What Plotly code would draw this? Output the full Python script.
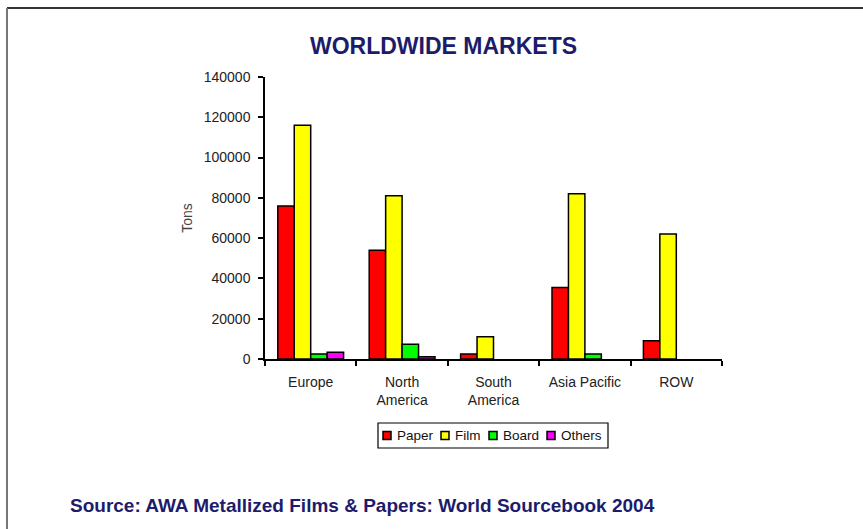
import plotly.graph_objects as go

regions = ["Europe", "North<br>America", "South<br>America", "Asia Pacific", "ROW"]
series_names = ["Paper", "Film", "Board", "Others"]
paper = [76000, 54000, 2500, 35500, 9000]
film = [116000, 81000, 11000, 82000, 62000]
board = [2500, 7300, None, 2500, None]
others = [3300, 1100, None, None, None]
colors = ["#ff0000", "#ffff00", "#00ff00", "#ff00ff"]
y_ticks = [0, 20000, 40000, 60000, 80000, 100000, 120000, 140000]

W, H = 863, 529
L, R, T, B = 265, 722, 77, 359

def px(x):
    return (x - L) / (R - L)

def py(y):
    return (B - y) / (B - T)

fig = go.Figure()
for name, vals, col in zip(series_names, [paper, film, board, others], colors):
    fig.add_trace(go.Bar(
        x=regions, y=vals, name=name, showlegend=False,
        marker=dict(color=col, line=dict(color="#000000", width=1.5)),
    ))

navy = "#1c1c6b"
font_family = "Liberation Sans, Arial, sans-serif"

# compact legend box (drawn as layout decorations)
legend_box = (378, 608, 423, 448)
legend_sq_x = [383, 441, 489, 547]
legend_tx_x = [395, 453, 501, 559]
shapes = [
    dict(type="line", xref="paper", yref="paper", x0=px(7), x1=px(863), y0=py(8), y1=py(8),
         line=dict(color="#333333", width=2)),
    dict(type="line", xref="paper", yref="paper", x0=px(7), x1=px(7), y0=py(8), y1=py(529),
         line=dict(color="#777777", width=2)),
    dict(type="rect", xref="paper", yref="paper",
         x0=px(legend_box[0]), x1=px(legend_box[1]), y0=py(legend_box[2]), y1=py(legend_box[3]),
         line=dict(color="#000000", width=1.2), fillcolor="white", layer="below"),
]
annotations = [
    dict(text="<b>WORLDWIDE MARKETS</b>", xref="paper", yref="paper",
         x=px(443), y=py(46), xanchor="center", yanchor="middle", showarrow=False,
         font=dict(size=23, color=navy, family=font_family)),
    dict(text="<b>Source: AWA Metallized Films &amp; Papers: World Sourcebook 2004</b>",
         xref="paper", yref="paper", x=px(68), y=py(505), xanchor="left", yanchor="middle",
         showarrow=False, font=dict(size=19, color=navy, family=font_family)),
]
ymid = (legend_box[2] + legend_box[3]) / 2
for name, col, sx, tx in zip(series_names, colors, legend_sq_x, legend_tx_x):
    shapes.append(dict(type="rect", xref="paper", yref="paper",
                       x0=px(sx), x1=px(sx + 8), y0=py(ymid - 4), y1=py(ymid + 4),
                       fillcolor=col, line=dict(color="#000000", width=1.5)))
    annotations.append(dict(text=name, xref="paper", yref="paper", x=px(tx), y=py(ymid),
                            xanchor="left", yanchor="middle", showarrow=False,
                            font=dict(size=13.5, color="#111111", family=font_family)))

fig.update_layout(
    width=W, height=H,
    margin=dict(l=L, r=W - R, t=T, b=H - B),
    paper_bgcolor="white", plot_bgcolor="white",
    barmode="group", bargap=0.28, bargroupgap=0,
    font=dict(family=font_family, size=13, color="#222222"),
    showlegend=False,
    xaxis=dict(
        type="category", showline=True, linecolor="#000000", linewidth=1.5,
        ticks="outside", ticklen=5, tickwidth=1.5, tickcolor="#000000",
        tickson="boundaries", showgrid=False, zeroline=False,
        tickfont=dict(size=14, color="#222222"), ticklabelstandoff=9,
    ),
    yaxis=dict(
        range=[0, 140000], tickvals=y_ticks, ticktext=[str(v) for v in y_ticks],
        showline=True, linecolor="#000000", linewidth=1.5,
        ticks="outside", ticklen=5, tickwidth=1.5, tickcolor="#000000",
        showgrid=False, zeroline=False,
        tickfont=dict(size=14, color="#222222"), ticklabelstandoff=5,
        title=dict(text="Tons", font=dict(size=14, color="#444444"), standoff=8),
    ),
    annotations=annotations,
    shapes=shapes,
)

fig.write_html("out.html")
